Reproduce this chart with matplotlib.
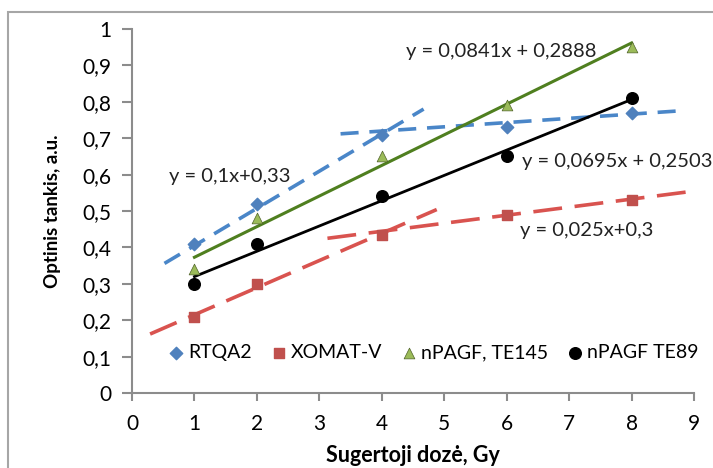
import matplotlib
matplotlib.use("Agg")
import matplotlib.pyplot as plt
from matplotlib.patches import Rectangle
from matplotlib.ticker import FuncFormatter, MultipleLocator

plt.rcParams['font.family'] = ['Lato', 'DejaVu Sans']

dose = [1, 2, 4, 6, 8]
rtqa2 = [0.41, 0.52, 0.71, 0.73, 0.77]
xomat = [0.21, 0.30, 0.435, 0.49, 0.53]
te145 = [0.34, 0.48, 0.65, 0.79, 0.95]
te89 = [0.30, 0.41, 0.54, 0.65, 0.81]

# trend line segments
blue_tr1_x = [0.52, 4.67]; blue_tr1_y = [0.356, 0.78]
blue_tr2_x = [3.34, 8.76]; blue_tr2_y = [0.712, 0.775]
red_tr1_x = [0.29, 4.88]; red_tr1_y = [0.162, 0.504]
red_tr2_x = [3.13, 8.92]; red_tr2_y = [0.425, 0.553]
green_fit = (0.0841, 0.2888)
black_fit = (0.0695, 0.2503)

eq_labels = ["y = 0,1x+0,33", "y = 0,0841x + 0,2888", "y = 0,0695x + 0,2503", "y = 0,025x+0,3"]
eq_pos = [(0.6, 0.595), (4.38, 0.937), (6.25, 0.636), (6.22, 0.447)]

fig = plt.figure(figsize=(7.13, 4.68), dpi=100)
fig.patches.append(Rectangle((8/713, -0.1), 1.2, 1 - 12/468 + 0.1, transform=fig.transFigure,
                             fill=False, edgecolor='#a6a6a6', linewidth=1.5))
ax = fig.add_axes([132/713, 1 - 393/468, (694 - 132)/713, (393 - 29)/468])

blue = '#4F81BD'; red = '#C0504D'; green_m = '#9BBB59'; green_l = '#4F7F1F'

ax.plot(blue_tr1_x, blue_tr1_y, color='#4A86C8', lw=2.6, dashes=(5, 3), zorder=2)
ax.plot(blue_tr2_x, blue_tr2_y, color='#4A86C8', lw=2.6, dashes=(5, 3), zorder=2)
ax.plot(red_tr1_x, red_tr1_y, color='#D9534F', lw=2.6, dashes=(8, 3.5), zorder=2)
ax.plot(red_tr2_x, red_tr2_y, color='#D9534F', lw=2.6, dashes=(8, 3.5), zorder=2)
gx = [dose[0], dose[-1]]
ax.plot(gx, [green_fit[0]*x + green_fit[1] for x in gx], color=green_l, lw=2.2, zorder=2)
ax.plot(gx, [black_fit[0]*x + black_fit[1] for x in gx], color='black', lw=2.0, zorder=2)

ax.scatter(dose, rtqa2, marker='D', s=40, color=blue, label='RTQA2', zorder=3)
ax.scatter(dose, xomat, marker='s', s=55, color=red, label='XOMAT-V', zorder=3)
ax.scatter(dose, te145, marker='^', s=60, color=green_m, edgecolors='#4F6228', linewidths=0.5,
           label='nPAGF, TE145', zorder=3)
ax.scatter(dose, te89, marker='o', s=70, color='black', label='nPAGF TE89', zorder=3)

for t, (x, y) in zip(eq_labels, eq_pos):
    ax.text(x, y, t, fontsize=14.5, va='center', ha='left', color='#222222')

ax.set_xlim(0, 9)
ax.set_ylim(0, 1)
ax.xaxis.set_major_locator(MultipleLocator(1))
ax.yaxis.set_major_locator(MultipleLocator(0.1))
ax.yaxis.set_major_formatter(FuncFormatter(lambda v, p: ('%g' % round(v, 1)).replace('.', ',')))
for s in ['top', 'right']:
    ax.spines[s].set_visible(False)
for s in ['left', 'bottom']:
    ax.spines[s].set_color('#8c8c8c')
    ax.spines[s].set_linewidth(1.5)
ax.tick_params(axis='both', colors='#8c8c8c', width=1.5, labelcolor='black', labelsize=15)
ax.tick_params(axis='y', length=7, pad=8)
ax.tick_params(axis='x', length=6, pad=9)
ax.set_xlabel('Sugertoji dozė, Gy', fontsize=15.5, fontweight='bold', labelpad=8)
ax.set_ylabel('Optinis tankis, a.u.', fontsize=13.5, fontweight='bold', labelpad=15)

leg = ax.legend(loc='lower center', bbox_to_anchor=(0.535, 0.04), ncol=4, frameon=False,
                fontsize=14, handletextpad=0.1, columnspacing=0.9, handlelength=1.0, scatterpoints=1)

fig.savefig('out.png', dpi=100)
